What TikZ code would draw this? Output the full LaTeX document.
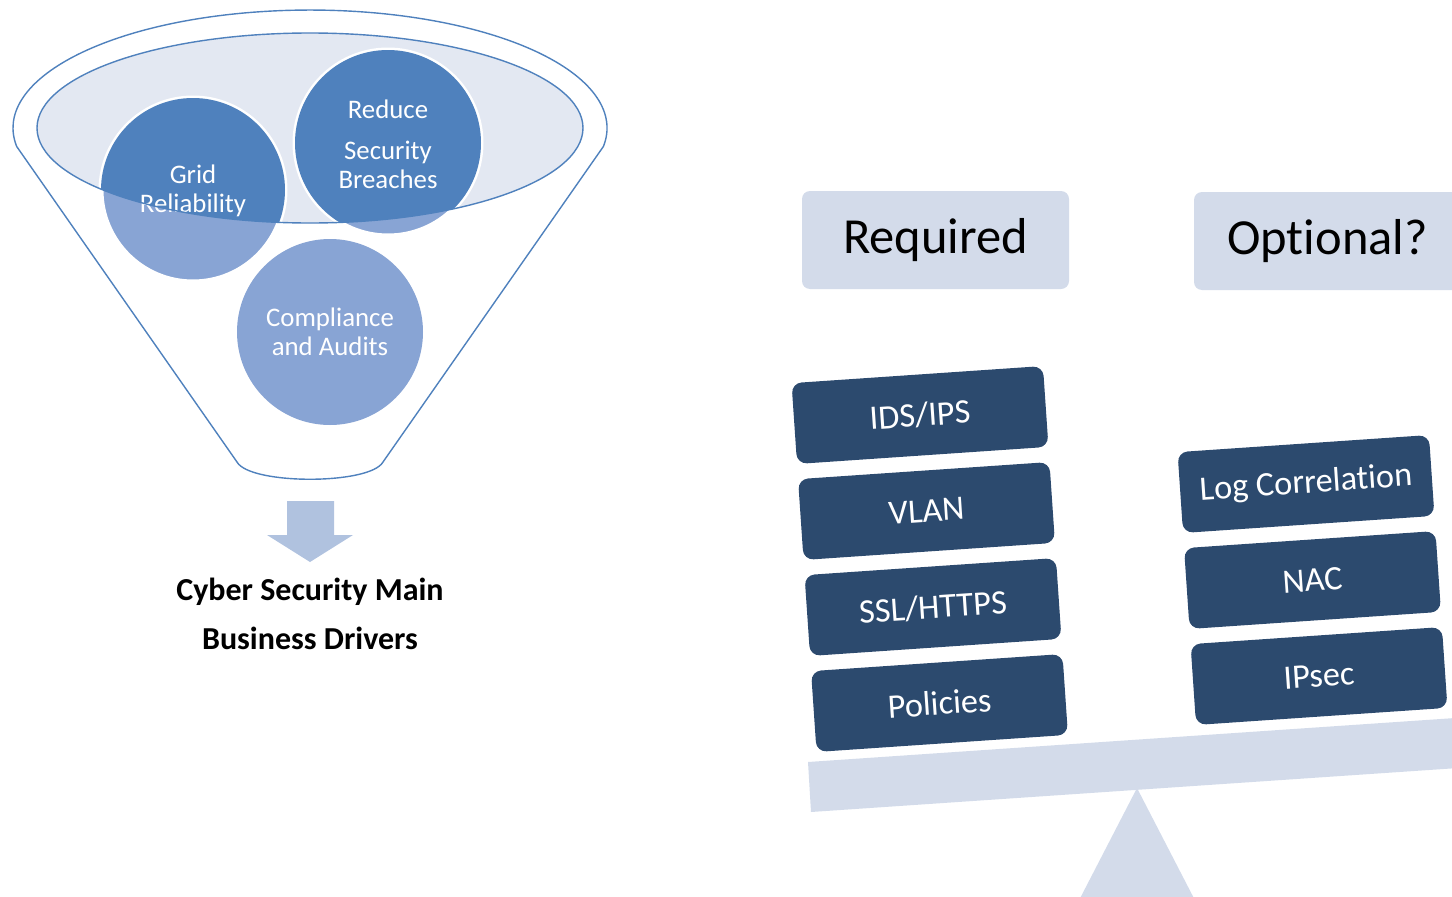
\documentclass[tikz,border=0pt]{standalone}
\usepackage{fontspec}
\setmainfont[Ligatures=NoCommon]{Carlito}
\usetikzlibrary{positioning}
\definecolor{accent}{HTML}{4F81BD}
\definecolor{navy}{HTML}{2C4A6E}
\definecolor{paleblue}{HTML}{D3DBEA}
\definecolor{arrowblue}{HTML}{B0C2DF}
\definecolor{softblue}{HTML}{88A4D4}
\definecolor{rimfill}{HTML}{E3E8F2}

\begin{document}
\begin{tikzpicture}
  [x=1pt, y=-1pt,
   bubble/.style = {circle, minimum size=186pt, inner sep=0pt, align=center, text=white,
                    font=\fontsize{26.8}{29}\selectfont},
   headbox/.style = {rectangle, rounded corners=8pt, fill=paleblue, minimum width=267pt,
                     minimum height=98pt, font=\fontsize{50.5}{58}\selectfont},
   stackbox/.style = {rectangle, rounded corners=10pt, fill=navy, text=white, minimum width=252pt,
                      minimum height=81pt, rotate=3.9, font=\fontsize{34.3}{40}\selectfont}]
  \clip (0,0) rectangle (1452,897);

  % funnel
  \draw[accent, line width=1.4pt, fill=white] (16.7,146.5)
    arc[start angle=171, end angle=369, x radius=297, y radius=118]
    -- (383,462) .. controls (370,485) and (250,485) .. (237,462) -- cycle;
  \fill[rimfill] (310,128) ellipse[x radius=273, y radius=95];

  % business drivers
  \node[bubble, fill=softblue] (audit) at (330,332) {Compliance\\and Audits};
  \fill[softblue, draw=white, line width=5pt] (193,190) circle[radius=92];
  \fill[softblue, draw=white, line width=5pt] (388,143) circle[radius=93];
  \begin{scope}
    \clip (310,128) ellipse[x radius=273, y radius=95];
    \fill[accent] (193,190) circle[radius=92];
    \fill[accent] (388,143) circle[radius=93];
  \end{scope}
  \node[bubble] (grid) at (193,191) {Grid\\Reliability};
  \node[bubble] (breach) at (388,144) {Reduce\\[12pt]Security\\Breaches};
  \draw[accent, line width=1.4pt] (310,128) ellipse[x radius=273, y radius=95];

  \fill[arrowblue] (287,501) -- (334,501) -- (334,535) -- (353,535) -- (310,562)
    -- (267,535) -- (287,535) -- cycle;
  \node[font=\bfseries\fontsize{32}{49}\selectfont, align=center] (drivers) at (310,614)
    {Cyber Security Main\\Business Drivers};

  % balance
  \node[headbox] (req) at (935.5,240) {Required};
  \node[headbox] (opt) at (1327.5,241) {Optional?};

  \node[stackbox] (ids) at (920,415) {IDS/IPS};
  \node[stackbox] (vlan) at (926.5,511) {VLAN};
  \node[stackbox] (ssl) at (933,607) {SSL/HTTPS};
  \node[stackbox] (pol) at (939.5,703) {Policies};

  \node[stackbox] (log) at (1306,484) {Log Correlation};
  \node[stackbox] (nac) at (1312.5,580) {NAC};
  \node[stackbox] (ipsec) at (1319,676) {IPsec};

  \fill[paleblue] (808,762) -- (1470,717) -- (1473,767) -- (811,812) -- cycle;
  \fill[paleblue] (1137,788) -- (1200,910) -- (1074,910) -- cycle;
\end{tikzpicture}
\end{document}
